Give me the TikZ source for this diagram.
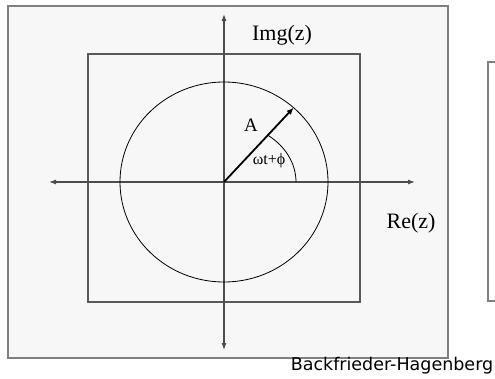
\documentclass[tikz,border=0pt]{standalone}
\usepackage{fontspec}
\setmainfont{Liberation Serif}
\newfontfamily\signfont{DejaVu Sans}
\usetikzlibrary{arrows.meta,calc}
\begin{document}
\begin{tikzpicture}[
            x=1pt, y=1pt,
            frame/.style={draw=gray, line width=1.6pt, fill=gray!6},
            innerbox/.style={draw=black!65, line width=1.1pt},
            axis/.style={draw=black!70, line width=1.1pt, {Latex[length=7pt,width=5pt]}-{Latex[length=7pt,width=5pt]}},
            vec/.style={draw=black, line width=1.8pt, -{Latex[length=7pt,width=6pt]}},
            lbl/.style={font=\fontsize{22}{24}\selectfont, inner sep=0pt}
          ]
          \useasboundingbox (0,0) rectangle (495,-379);
          \clip (0,0) rectangle (495,-379);
          \fill[white] (0,0) rectangle (495,-379);
          \draw[frame] (8,-6) rectangle (448,-358);
          \draw[innerbox] (88,-54) rectangle (360,-302);
          \draw[draw=gray, line width=1.3pt] (488,-62) rectangle (510,-301);
          % axes
          \coordinate (o) at (224,-182);
          \coordinate (xl) at (49,-182);
          \coordinate (xr) at (415,-182);
          \coordinate (yt) at (224,-14);
          \coordinate (yb) at (224,-350);
          \draw[axis] (xl) -- (xr);
          \draw[axis] (yb) -- (yt);
          % circle and vector
          \draw[line width=0.8pt] (o) ellipse [x radius=104, y radius=100];
          \coordinate (tip) at ($(o)+({104*cos(48)},{100*sin(48)})$);
          \draw[vec] (o) -- (tip);
          \draw[line width=0.8pt] ($(o)+(72,0)$) arc[start angle=0, end angle=52, x radius=72, y radius=59];
          % labels
          \node[lbl] (img) at (282,-35) {Img(z)};
          \node[lbl] (re) at (411,-223) {Re(z)};
          \node[lbl, font=\fontsize{19}{21}\selectfont] (amp) at (251,-125) {A};
          \node[inner sep=0pt, font=\fontsize{16}{18}\selectfont] (ang) at (269,-161) {ωt+ϕ};
          \node[inner sep=0pt, font=\signfont\fontsize{17.5}{19}\selectfont] (sign) at (392,-366) {Backfrieder-Hagenberg};
        \end{tikzpicture}
\end{document}
